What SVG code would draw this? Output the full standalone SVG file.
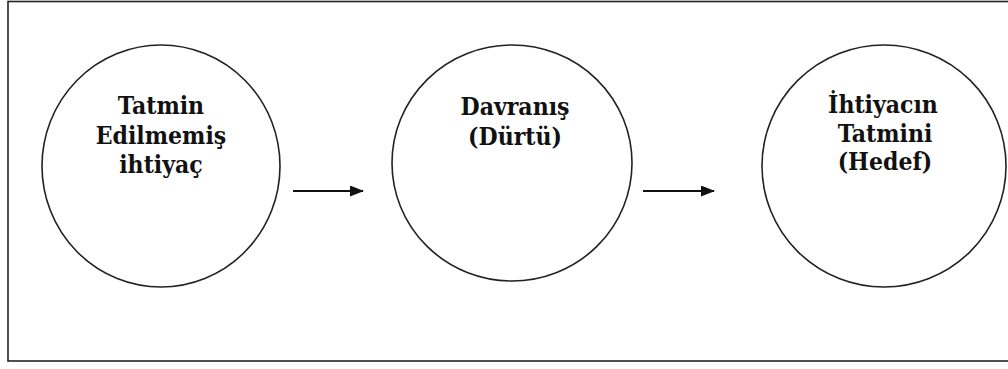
<svg xmlns="http://www.w3.org/2000/svg" width="1008" height="369" viewBox="0 0 1008 369">
<style>
.node ellipse{fill:#fff;stroke:#222;stroke-width:1.6}
.node text{font-family:'DejaVu Serif Condensed','DejaVu Serif',serif;font-weight:700;font-size:24.5px;fill:#111;text-anchor:middle}
.conn line{stroke:#111;stroke-width:2.2}
</style>
<defs>
<marker id="ah" markerWidth="14" markerHeight="11" refX="13" refY="5.5" orient="auto" markerUnits="userSpaceOnUse">
<path d="M0,0 L14,5.5 L0,11 Z" fill="#111"/>
</marker>
</defs>
<rect x="0" y="0" width="1008" height="369" fill="#fff"/>
<rect x="8" y="1.5" width="1010" height="359.5" fill="none" stroke="#222" stroke-width="1.6"/>
<g id="node1" class="node">
<ellipse cx="161" cy="166" rx="119" ry="121"/>
<text x="161" y="114">Tatmin</text>
<text x="161" y="144">Edilmemiş</text>
<text x="161" y="173">ihtiyaç</text>
</g>
<g id="node2" class="node">
<ellipse cx="512" cy="163" rx="120" ry="118"/>
<text x="515" y="115">Davranış</text>
<text x="515" y="145">(Dürtü)</text>
</g>
<g id="node3" class="node">
<ellipse cx="884" cy="166" rx="122" ry="121"/>
<text x="883" y="113">İhtiyacın</text>
<text x="885" y="142">Tatmini</text>
<text x="885" y="170">(Hedef)</text>
</g>
<g id="connectors" class="conn">
<line x1="293" y1="191" x2="363" y2="191" marker-end="url(#ah)"/>
<line x1="643" y1="191" x2="714" y2="191" marker-end="url(#ah)"/>
</g>
</svg>
